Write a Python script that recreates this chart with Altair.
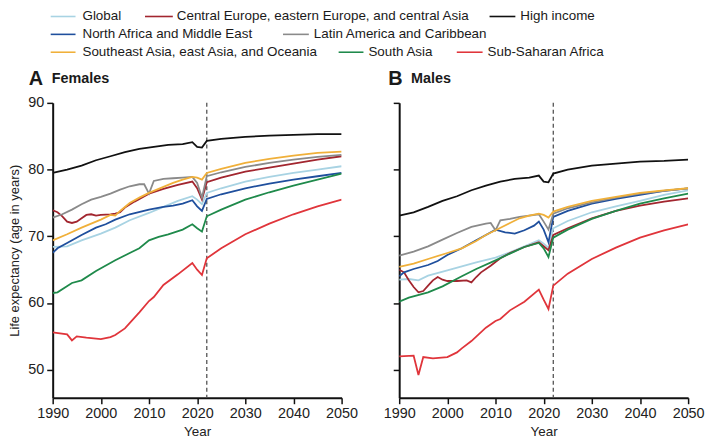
import altair as alt
import pandas as pd

REGIONS = ["Global", "Central Europe, eastern Europe, and central Asia", "High income",
           "North Africa and Middle East", "Latin America and Caribbean",
           "Southeast Asia, east Asia, and Oceania", "South Asia", "Sub-Saharan Africa"]
COLORS = ["#a8d3e3", "#a2262f", "#111111", "#1f4f9d", "#8a8a8a", "#f0b03a", "#1f8a4b", "#e0353b"]

FC_YEARS = [2025, 2030, 2035, 2040, 2045, 2050]

# ---------------- Females ----------------
F_GLOBAL_YEARS = [1990, 1993, 1996, 2000, 2003, 2006, 2010, 2013, 2016, 2019, 2020, 2021, 2022]
F_GLOBAL = [68.4, 68.5, 69.4, 70.4, 71.3, 72.4, 73.5, 74.4, 75.3, 76.0, 75.5, 74.8, 76.5]
F_GLOBAL_FC = [77.2, 78.2, 78.9, 79.5, 80.0, 80.5]

F_CEE_YEARS = [1990, 1991, 1992, 1993, 1994, 1995, 1996, 1997, 1998, 1999, 2000, 2002, 2003, 2004,
               2005, 2007, 2010, 2013, 2016, 2019, 2020, 2021, 2022]
F_CEE = [73.9, 73.6, 73.0, 72.2, 72.0, 72.2, 72.7, 73.2, 73.3, 73.1, 73.2, 73.3, 73.4, 73.6,
         74.3, 75.2, 76.4, 77.1, 77.7, 78.2, 77.2, 75.5, 78.1]
F_CEE_FC = [78.8, 79.7, 80.3, 80.9, 81.5, 82.0]

F_HI_YEARS = [1990, 1993, 1996, 1999, 2002, 2005, 2008, 2011, 2014, 2017, 2019, 2020, 2021, 2022]
F_HI = [79.5, 80.0, 80.6, 81.4, 82.0, 82.6, 83.1, 83.4, 83.7, 83.8, 84.1, 83.4, 83.3, 84.3]
F_HI_FC = [84.6, 84.9, 85.1, 85.2, 85.3, 85.3]

F_NAME_YEARS = [1990, 1991, 1993, 1996, 1999, 2001, 2003, 2006, 2010, 2013, 2015, 2017, 2019,
                2020, 2021, 2022]
F_NAME = [67.5, 68.2, 69.0, 70.2, 71.3, 71.8, 72.5, 73.3, 74.0, 74.4, 74.6, 74.9, 75.4,
          74.5, 73.8, 75.6]
F_NAME_FC = [76.3, 77.2, 77.9, 78.5, 79.0, 79.5]

F_LAC_YEARS = [1990, 1992, 1994, 1996, 1998, 2000, 2002, 2004, 2006, 2008, 2009, 2010, 2011,
               2013, 2015, 2017, 2019, 2020, 2021, 2022]
F_LAC = [72.8, 73.3, 74.0, 74.8, 75.5, 75.9, 76.4, 77.0, 77.5, 77.8, 77.8, 76.4, 78.3,
         78.6, 78.7, 78.8, 78.9, 78.0, 75.8, 79.0]
F_LAC_FC = [79.6, 80.4, 81.0, 81.5, 81.9, 82.2]

F_SEA_YEARS = [1990, 1993, 1996, 2000, 2002, 2003, 2004, 2006, 2008, 2010, 2013, 2015, 2017,
               2019, 2020, 2021, 2022]
F_SEA = [69.4, 70.3, 71.3, 72.5, 73.2, 73.1, 73.8, 75.0, 75.8, 76.5, 77.4, 78.0, 78.5,
         78.9, 78.8, 78.5, 79.5]
F_SEA_FC = [80.1, 81.0, 81.6, 82.1, 82.5, 82.7]

F_SA_YEARS = [1990, 1991, 1994, 1996, 1999, 2003, 2006, 2008, 2010, 2012, 2014, 2017, 2019,
              2020, 2021, 2022]
F_SA = [61.5, 61.6, 63.0, 63.4, 64.8, 66.4, 67.5, 68.2, 69.4, 69.9, 70.3, 71.0, 71.8,
        71.2, 70.7, 73.0]
F_SA_FC = [74.0, 75.5, 76.6, 77.6, 78.5, 79.4]

F_SSA_YEARS = [1990, 1993, 1994, 1995, 1997, 2000, 2002, 2003, 2005, 2008, 2010, 2011, 2013,
               2016, 2019, 2020, 2021, 2022]
F_SSA = [55.6, 55.3, 54.4, 55.0, 54.8, 54.6, 54.9, 55.2, 56.2, 58.6, 60.3, 60.9, 62.7,
         64.3, 66.0, 65.0, 64.2, 66.7]
F_SSA_FC = [68.2, 70.3, 71.9, 73.3, 74.5, 75.5]

# ---------------- Males ----------------
M_GLOBAL_YEARS = [1990, 1992, 1994, 1996, 2000, 2003, 2006, 2010, 2013, 2016, 2019, 2020, 2021, 2022]
M_GLOBAL = [63.5, 63.6, 63.4, 64.1, 64.9, 65.5, 66.1, 66.8, 67.6, 68.5, 69.4, 68.9, 68.3, 71.2]
M_GLOBAL_FC = [72.3, 73.6, 74.5, 75.3, 76.2, 76.9]

M_CEE_YEARS = [1990, 1991, 1992, 1993, 1994, 1995, 1996, 1997, 1998, 1999, 2000, 2002, 2004,
               2005, 2006, 2007, 2009, 2011, 2013, 2016, 2019, 2020, 2021, 2022]
M_CEE = [65.0, 64.6, 63.4, 62.4, 61.6, 61.8, 62.6, 63.4, 63.9, 63.5, 63.3, 63.3, 63.4,
         63.1, 63.9, 64.6, 65.6, 66.7, 67.5, 68.4, 69.1, 68.5, 67.9, 70.2]
M_CEE_FC = [71.2, 72.7, 73.8, 74.6, 75.2, 75.7]

M_HI_YEARS = [1990, 1993, 1996, 1999, 2002, 2005, 2008, 2011, 2014, 2017, 2019, 2020, 2021, 2022]
M_HI = [73.1, 73.6, 74.4, 75.3, 76.0, 76.9, 77.6, 78.2, 78.6, 78.8, 79.1, 78.2, 78.1, 79.4]
M_HI_FC = [80.0, 80.6, 80.9, 81.2, 81.3, 81.5]

M_NAME_YEARS = [1990, 1991, 1993, 1996, 1998, 2000, 2003, 2006, 2008, 2010, 2012, 2014, 2016,
                2018, 2019, 2020, 2021, 2022]
M_NAME = [64.0, 64.6, 65.1, 65.7, 66.3, 67.2, 68.2, 69.4, 70.2, 71.0, 70.6, 70.4, 70.9,
          71.6, 72.2, 71.0, 69.1, 72.9]
M_NAME_FC = [73.8, 74.9, 75.6, 76.2, 76.8, 77.2]

M_LAC_YEARS = [1990, 1993, 1996, 1999, 2002, 2005, 2008, 2009, 2010, 2011, 2013, 2015, 2017,
               2019, 2020, 2021, 2022]
M_LAC = [67.1, 67.7, 68.5, 69.5, 70.5, 71.4, 71.9, 72.0, 70.9, 72.4, 72.6, 72.9, 73.1,
         73.3, 72.2, 71.0, 73.4]
M_LAC_FC = [74.2, 75.1, 75.8, 76.4, 76.8, 77.2]

M_SEA_YEARS = [1990, 1993, 1996, 2000, 2003, 2006, 2008, 2010, 2013, 2015, 2017, 2019, 2020,
               2021, 2022]
M_SEA = [65.4, 65.9, 66.6, 67.5, 68.2, 69.3, 70.2, 70.9, 72.0, 72.7, 73.1, 73.4, 73.2,
         72.8, 73.7]
M_SEA_FC = [74.4, 75.3, 75.9, 76.5, 76.9, 77.2]

M_SA_YEARS = [1990, 1992, 1996, 1999, 2003, 2006, 2010, 2013, 2016, 2019, 2020, 2021, 2022]
M_SA = [60.2, 60.8, 61.6, 62.5, 64.0, 65.1, 66.4, 67.4, 68.4, 69.0, 68.2, 66.9, 69.8]
M_SA_FC = [71.0, 72.6, 73.8, 74.9, 75.7, 76.4]

M_SSA_YEARS = [1990, 1993, 1994, 1995, 1997, 2000, 2002, 2003, 2005, 2008, 2010, 2011, 2013,
               2016, 2019, 2020, 2021, 2022]
M_SSA = [52.0, 52.1, 49.2, 51.9, 51.7, 51.9, 52.6, 53.2, 54.3, 56.3, 57.3, 57.6, 58.9,
         60.2, 62.0, 60.5, 59.1, 62.6]
M_SSA_FC = [64.4, 66.6, 68.3, 69.8, 70.9, 71.8]

FEMALE_SERIES = [
    (F_GLOBAL_YEARS, F_GLOBAL, F_GLOBAL_FC), (F_CEE_YEARS, F_CEE, F_CEE_FC),
    (F_HI_YEARS, F_HI, F_HI_FC), (F_NAME_YEARS, F_NAME, F_NAME_FC),
    (F_LAC_YEARS, F_LAC, F_LAC_FC), (F_SEA_YEARS, F_SEA, F_SEA_FC),
    (F_SA_YEARS, F_SA, F_SA_FC), (F_SSA_YEARS, F_SSA, F_SSA_FC),
]
MALE_SERIES = [
    (M_GLOBAL_YEARS, M_GLOBAL, M_GLOBAL_FC), (M_CEE_YEARS, M_CEE, M_CEE_FC),
    (M_HI_YEARS, M_HI, M_HI_FC), (M_NAME_YEARS, M_NAME, M_NAME_FC),
    (M_LAC_YEARS, M_LAC, M_LAC_FC), (M_SEA_YEARS, M_SEA, M_SEA_FC),
    (M_SA_YEARS, M_SA, M_SA_FC), (M_SSA_YEARS, M_SSA, M_SSA_FC),
]


def build(series):
    rows = []
    for region, (yrs, vals, fc) in zip(REGIONS, series):
        for y, v in zip(list(yrs) + FC_YEARS, list(vals) + list(fc)):
            rows.append({"region": region, "year": y, "le": v})
    return pd.DataFrame(rows)


df_f = build(FEMALE_SERIES)
df_m = build(MALE_SERIES)

FONT = "Liberation Sans, Arial, sans-serif"
W, H = 291, 297
Y_DOMAIN = [45.8, 90]
X_DOMAIN = [1990, 2050]
FORECAST_START = [2022]

color_scale = alt.Scale(domain=REGIONS, range=COLORS)
one = pd.DataFrame({"k": [0]})


def text_at(txt, x, y, size, weight="normal"):
    return alt.Chart(pd.DataFrame({"t": [txt]})).mark_text(
        align="left", baseline="middle", fontSize=size, fontWeight=weight,
        font=FONT, color="#1a1a1a"
    ).encode(x=alt.value(x), y=alt.value(y), text="t:N")


def swatch(col, x1, x2, y):
    return alt.Chart(one).mark_rule(color=col, strokeWidth=1.6).encode(
        x=alt.value(x1), x2=alt.value(x2), y=alt.value(y))


def panel(df, letter, word, letter_dx, show_y):
    y_axis = alt.Axis(values=[50, 60, 70, 80, 90], labels=show_y,
                      title="Life expectancy (age in years)" if show_y else None,
                      titleFontSize=13, titleFont=FONT, titleFontWeight="normal",
                      titlePadding=6, labelFontSize=14.5, labelFont=FONT, labelPadding=3,
                      labelOverlap=False, labelFlush=False)
    x_axis = alt.Axis(values=list(range(1990, 2051, 10)), format="d", title="Year",
                      titleFontSize=13.5, titleFont=FONT, titleFontWeight="normal",
                      titlePadding=5, labelFontSize=14.5, labelFont=FONT, labelPadding=3,
                      labelOverlap=False, labelFlush=False)
    x_scale = alt.Scale(domain=X_DOMAIN, nice=False, zero=False)
    y_scale = alt.Scale(domain=Y_DOMAIN, nice=False, zero=False)
    lines = alt.Chart(df).mark_line(strokeWidth=1.8, clip=True).encode(
        x=alt.X("year:Q", scale=x_scale, axis=x_axis),
        y=alt.Y("le:Q", scale=y_scale, axis=y_axis),
        color=alt.Color("region:N", scale=color_scale, legend=None),
        detail="region:N",
        order="year:Q",
    )
    rule = alt.Chart(pd.DataFrame({"year": FORECAST_START})).mark_rule(
        color="#555555", strokeDash=[4, 3], strokeWidth=1.3
    ).encode(x=alt.X("year:Q", scale=x_scale, axis=x_axis))
    layers = [rule, lines,
              text_at(letter, letter_dx, -24, 20, "bold"),
              text_at(word, letter_dx + 23, -24, 14.5, "bold")]
    return layers


LEGEND_LAYOUT = [
    # region index, swatch x1, swatch x2, text x, y
    (0, -2, 23, 30, -87), (1, 93, 121, 125, -87), (2, 440, 466, 471, -87),
    (3, -2, 23, 30, -69), (4, 232, 258, 263, -69),
    (5, -2, 23, 30, -51), (6, 288, 313, 318, -51), (7, 407, 433, 438, -51),
]
legend_layers = []
for idx, x1, x2, tx, ly in LEGEND_LAYOUT:
    legend_layers.append(swatch(COLORS[idx], x1, x2, ly))
    legend_layers.append(text_at(REGIONS[idx], tx, ly, 13.5))

left = alt.layer(*(panel(df_f, "A", "Females", -24, True) + legend_layers)).properties(
    width=W, height=H)
right = alt.layer(*panel(df_m, "B", "Males", -11, False)).properties(width=W, height=H)

chart = alt.hconcat(left, right, spacing=58, bounds="flush").properties(
    padding=0
).configure_view(stroke=None).configure_axis(
    grid=False, domainColor="#111111", domainWidth=2, tickColor="#111111",
    tickWidth=1.5, tickSize=6, labelColor="#222222", titleColor="#222222"
)

chart.save("out.html", embed_options={"renderer": "svg", "actions": False})
